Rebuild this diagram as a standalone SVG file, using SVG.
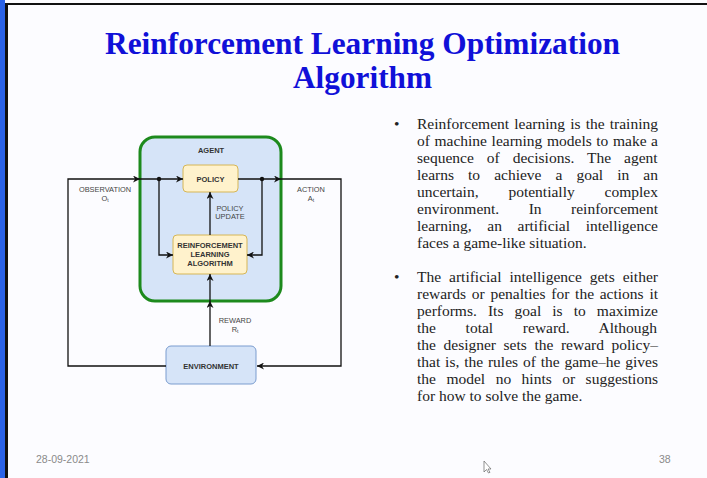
<svg xmlns="http://www.w3.org/2000/svg" width="707" height="478" viewBox="0 0 707 478">
<style>
.title{font-family:"Liberation Serif",serif;font-weight:bold;font-size:31px;fill:#1010d8;text-anchor:middle}
.body{font-family:"Liberation Serif",serif;font-size:15.5px;fill:#222}
.lbl{font-family:"Liberation Sans",Arial,sans-serif;font-weight:bold;font-size:7.5px;fill:#333;text-anchor:middle}
.lblg{font-family:"Liberation Sans",Arial,sans-serif;font-size:7.4px;fill:#444;text-anchor:middle}
.foot{font-family:"Liberation Sans",Arial,sans-serif;font-size:10.5px;fill:#8a8a8a}
.ln{fill:none;stroke:#111;stroke-width:1.3}
.box{fill:#fff2cc;stroke:#d6b656;stroke-width:1}
</style>
<defs>
<marker id="ah" viewBox="0 0 10 10" refX="10" refY="5" markerWidth="7" markerHeight="7" markerUnits="userSpaceOnUse" orient="auto">
<path d="M0,0 L10,5 L0,10 L3,5 Z" fill="#111"/>
</marker>
</defs>
<rect x="0" y="0" width="707" height="478" fill="#fcfcff"/>
<rect x="0" y="0" width="5" height="478" fill="#2b63e8"/>
<rect x="5" y="3" width="3" height="475" fill="#111"/>
<rect x="5" y="3" width="702" height="2" fill="#111"/>
<text class="title" x="362.5" y="54" textLength="515" lengthAdjust="spacingAndGlyphs">Reinforcement Learning Optimization</text>
<text class="title" x="362.5" y="88" textLength="139" lengthAdjust="spacingAndGlyphs">Algorithm</text>

<g id="agent">
<rect x="140" y="137" width="141" height="164" rx="15" fill="#d6e4f8" stroke="#1d8a1d" stroke-width="3"/>
<text class="lbl" x="211" y="153" font-size="8.5">AGENT</text>
</g>
<g id="policy">
<rect class="box" x="183" y="165" width="55" height="27" rx="4"/>
<text class="lbl" x="210.5" y="181.5">POLICY</text>
</g>
<g id="rl">
<rect class="box" x="173" y="235" width="74" height="39" rx="4"/>
<text class="lbl" x="210" y="248">REINFORCEMENT</text>
<text class="lbl" x="210" y="257">LEARNING</text>
<text class="lbl" x="210" y="266">ALGORITHM</text>
</g>
<g id="environment">
<rect x="166" y="346" width="90" height="38" rx="5" fill="#d6e4f8" stroke="#7a9ccf" stroke-width="1"/>
<text class="lbl" x="211" y="368.5" font-size="8.5">ENVIRONMENT</text>
</g>

<g id="connectors">
<path class="ln" d="M166,366 H68 V179 H140" marker-end="url(#ah)"/>
<path class="ln" d="M140,179 H183" marker-end="url(#ah)"/>
<path class="ln" d="M159,179 V255 H173" marker-end="url(#ah)"/>
<path class="ln" d="M238,179 H281" marker-end="url(#ah)"/>
<path class="ln" d="M281,179 H341 V366 H257" marker-end="url(#ah)"/>
<path class="ln" d="M262,179 V255 H247" marker-end="url(#ah)"/>
<path class="ln" d="M210,235 V192" marker-end="url(#ah)"/>
<path class="ln" d="M210,346 V301" marker-end="url(#ah)"/>
<path class="ln" d="M210,301 V274" marker-end="url(#ah)"/>
<circle cx="159" cy="179" r="2.2" fill="#111"/>
<circle cx="262" cy="179" r="2.2" fill="#111"/>
<text class="lblg" x="105" y="192">OBSERVATION</text>
<text class="lblg" x="105" y="201">O<tspan font-size="5" dy="1">t</tspan></text>
<text class="lblg" x="311" y="192">ACTION</text>
<text class="lblg" x="311" y="201">A<tspan font-size="5" dy="1">t</tspan></text>
<text class="lblg" x="230" y="211">POLICY</text>
<text class="lblg" x="230" y="219">UPDATE</text>
<text class="lblg" x="235" y="323">REWARD</text>
<text class="lblg" x="235" y="332">R<tspan font-size="5" dy="1">t</tspan></text>
</g>

<g id="bullets">
<text class="body" x="394" y="129">•</text>
<text class="body" x="417" y="129" word-spacing="1.27">Reinforcement learning is the training</text>
<text class="body" x="417" y="146" word-spacing="0.71">of machine learning models to make a</text>
<text class="body" x="417" y="163" word-spacing="9.13">sequence of decisions. The agent</text>
<text class="body" x="417" y="180" word-spacing="10.18">learns to achieve a goal in an</text>
<text class="body" x="417" y="197" word-spacing="26">uncertain, potentially complex</text>
<text class="body" x="417" y="214" word-spacing="25.6">environment. In reinforcement</text>
<text class="body" x="417" y="231" word-spacing="11.74">learning, an artificial intelligence</text>
<text class="body" x="417" y="248">faces a game-like situation.</text>

<text class="body" x="394" y="282">•</text>
<text class="body" x="417" y="282" word-spacing="4.07">The artificial intelligence gets either</text>
<text class="body" x="417" y="299" word-spacing="1.86">rewards or penalties for the actions it</text>
<text class="body" x="417" y="316" word-spacing="7.21">performs. Its goal is to maximize</text>
<text class="body" x="417" y="333" word-spacing="25.8">the total reward. Although</text>
<text class="body" x="417" y="350" word-spacing="3.69">the designer sets the reward policy–</text>
<text class="body" x="417" y="367" word-spacing="0.97">that is, the rules of the game–he gives</text>
<text class="body" x="417" y="384" word-spacing="6.6">the model no hints or suggestions</text>
<text class="body" x="417" y="401">for how to solve the game.</text>
</g>

<text class="foot" x="36" y="463">28-09-2021</text>
<text class="foot" x="659" y="463">38</text>
<path d="M484,461 V472 L486.5,469.5 L488.5,473 L490,472.3 L488,469 L491,469 Z" fill="#fff" stroke="#666" stroke-width="0.7"/>
</svg>
